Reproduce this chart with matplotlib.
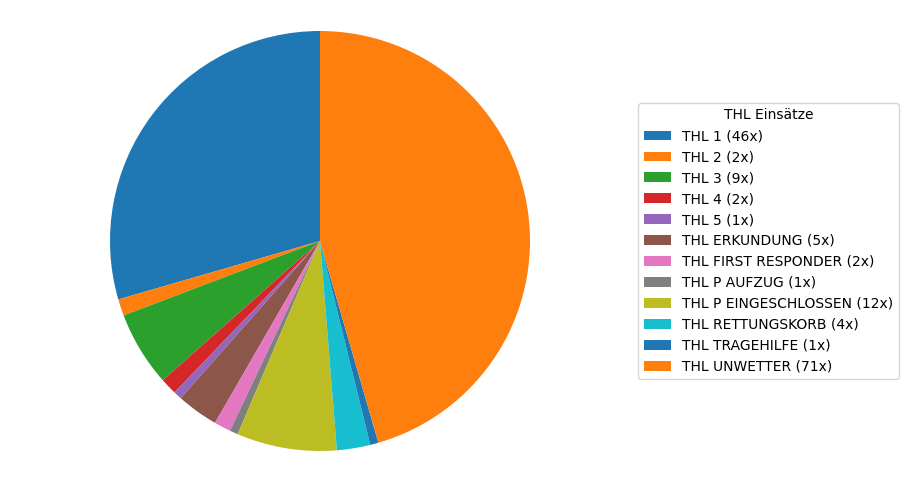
import matplotlib
matplotlib.use("Agg")
import matplotlib.pyplot as plt

# THL Einsätze counts
labels = ['THL 1', 'THL 2', 'THL 3', 'THL 4', 'THL 5', 'THL ERKUNDUNG',
          'THL FIRST RESPONDER', 'THL P AUFZUG', 'THL P EINGESCHLOSSEN',
          'THL RETTUNGSKORB', 'THL TRAGEHILFE', 'THL UNWETTER']
counts = [46, 2, 9, 2, 1, 5, 2, 1, 12, 4, 1, 71]

legend_labels = ["%s (%dx)" % (l, c) for l, c in zip(labels, counts)]

fig = plt.figure(figsize=(9.08, 4.82), dpi=100)
# pie radius 210px centred at (320, 241)
ax = fig.add_axes([57.5/908, -21.5/482, 525/908, 525/482])
wedges, _ = ax.pie(counts, startangle=90)
ax.set_aspect('equal')

ax.legend(wedges, legend_labels, title="THL Einsätze", loc='center left',
          bbox_to_anchor=(631/908, 0.5), bbox_transform=fig.transFigure)

fig.savefig("out.png", dpi=100)
